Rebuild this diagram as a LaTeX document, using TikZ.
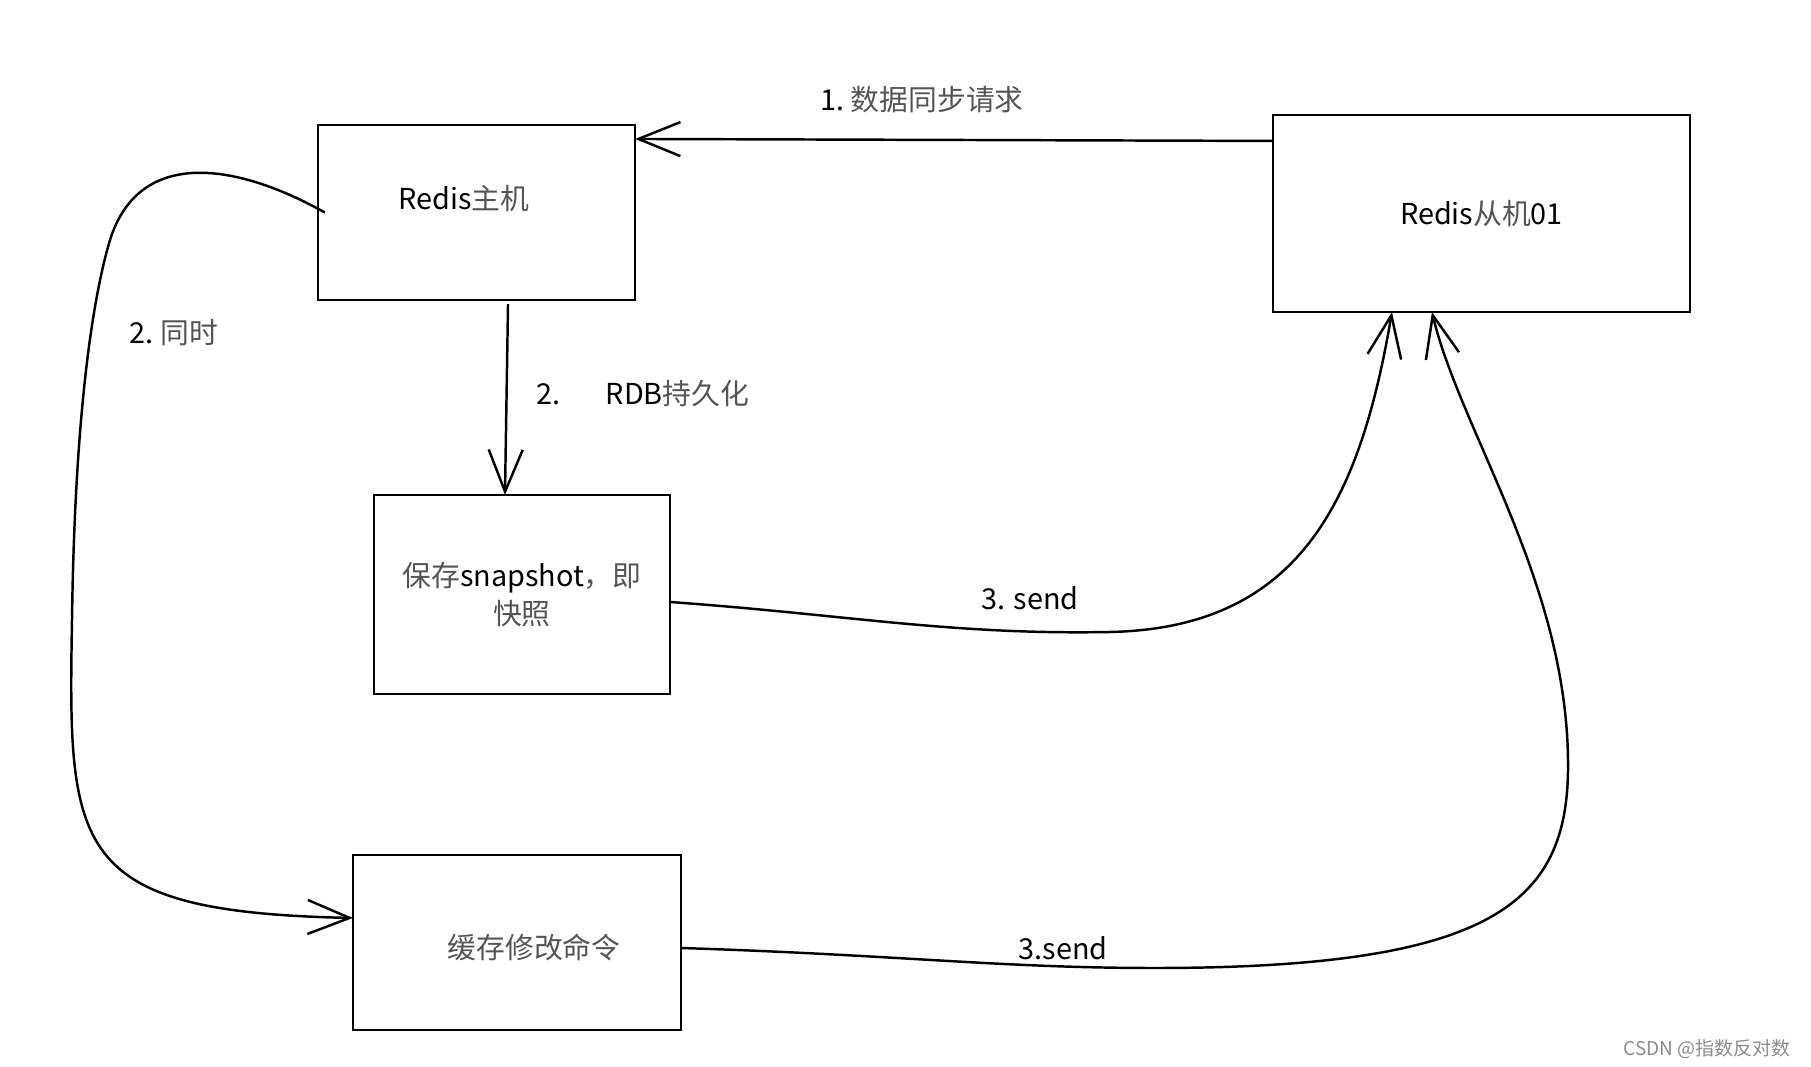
\documentclass[tikz,border=0pt]{standalone}
\usepackage{fontspec}
\setmainfont{Noto Sans CJK SC}
\usetikzlibrary{arrows.meta}

\definecolor{zhgray}{HTML}{555555}
\newcommand{\zh}[1]{\textcolor{zhgray}{#1}}

\begin{document}
\begin{tikzpicture}[x=0.01cm, y=-0.01cm, line width=0.7pt,
  font=\fontsize{8.2}{11}\selectfont,
  box/.style={draw, inner sep=0pt, outer sep=0pt, align=center},
  arr/.style={-{Straight Barb[length=4.2mm,width=3.4mm]}}]

  \useasboundingbox (0,0) rectangle (1811,1067);

  % Riquadri
  \node[box, minimum width=3.17cm, minimum height=1.75cm,
    label={[xshift=-0.125cm,yshift=0.135cm]center:Redis\zh{主机}}] (master) at (476.5,212.5) {};
  \node[box, minimum width=4.17cm, minimum height=1.97cm] (slave) at (1481.5,213.5) {Redis\zh{从机}01};
  \node[box, minimum width=2.96cm, minimum height=1.99cm] (snap) at (522,594.5) {\zh{保存}snapshot\zh{，即}\\\zh{快照}};
  \node[box, minimum width=3.28cm, minimum height=1.75cm,
    label={[xshift=0.17cm,yshift=-0.045cm]center:\zh{缓存修改命令}}] (cache) at (517,942.5) {};

  % Testi delle frecce
  \node (lsync) at (922,100) {1.\ \zh{数据同步请求}};
  \node (lsame) at (174,333) {2.\ \zh{同时}};
  \node (lrdb) at (643,394) {2.\hspace{0.45cm}RDB\zh{持久化}};
  \node (lsend1) at (1030,598) {3. send};
  \node (lsend2) at (1063,948) {3.send};

  % 1: richiesta di sincronizzazione
  \draw[arr] ([yshift=0.725cm]slave.west) -- ([yshift=0.735cm]master.east);

  % 2: persistenza RDB
  \draw[arr] ([xshift=0.315cm,yshift=-0.04cm]master.south) -- ([xshift=-0.17cm]snap.north);

  % 2: contemporaneamente, comandi in cache
  \draw[arr] ([xshift=0.07cm]master.west)
    .. controls (240,165) and (140,145) .. (110,240)
    .. controls (95,290) and (75,400) .. (72,620)
    .. controls (68,850) and (70,912) .. ([yshift=0.245cm]cache.west);

  % 3: invio snapshot
  \draw[arr] ([yshift=-0.075cm]snap.east)
    .. controls (850,615) and (950,635) .. (1110,632)
    .. controls (1300,628) and (1360,500) .. ([xshift=-0.895cm]slave.south);

  % 3: invio comandi
  \draw[arr] ([yshift=-0.055cm]cache.east)
    .. controls (900,955) and (1000,968) .. (1155,968)
    .. controls (1500,968) and (1570,900) .. (1568,760)
    .. controls (1566,580) and (1460,430) .. ([xshift=-0.495cm]slave.south);

  % Filigrana
  \node[text=black!45, font=\fontsize{5.4}{6}\selectfont] (mark) at (1707,1049) {CSDN @指数反对数};

\end{tikzpicture}
\end{document}
